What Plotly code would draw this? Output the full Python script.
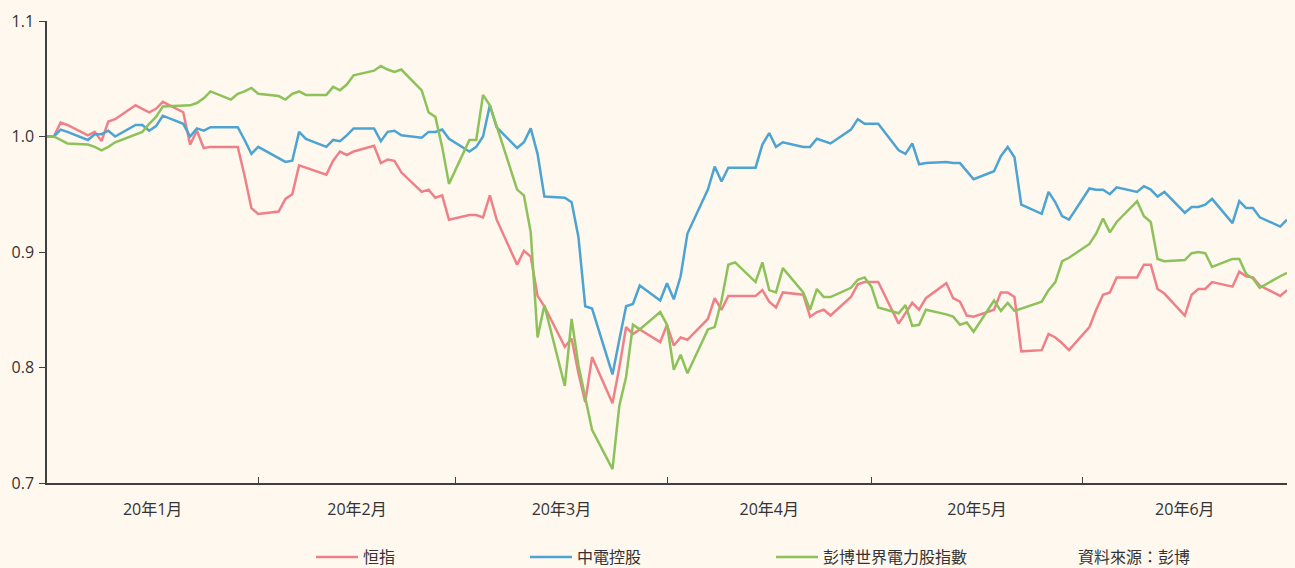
import pandas as pd
import plotly.graph_objects as go

# Trading-day calendar (all weekdays, holidays forward-filled in the source data)
dates = pd.bdate_range("2019-12-31", "2020-06-30")

hsi = [  # 恒指
    1.000, 1.000, 1.012, 1.010, 1.001, 1.004, 0.996, 1.013, 1.015, 1.027, 1.024, 1.021,
    1.024, 1.030, 1.021, 0.993, 1.005, 0.990, 0.991, 0.991, 0.991, 0.966, 0.938, 0.933,
    0.935, 0.946, 0.950, 0.975, 0.973,
    0.967, 0.979, 0.987, 0.984, 0.987,
    0.992, 0.977, 0.980, 0.979, 0.969,
    0.952, 0.954, 0.947, 0.949, 0.928,
    0.932, 0.932, 0.930, 0.949, 0.928,
    0.889, 0.901, 0.896, 0.862, 0.853,
    0.818, 0.825, 0.795, 0.770, 0.809,
    0.769, 0.800, 0.835, 0.829, 0.833,
    0.822, 0.837,
    0.819, 0.826, 0.824,
    0.842, 0.860, 0.850, 0.862, 0.862,
    0.862, 0.867, 0.857, 0.852, 0.865,
    0.863, 0.844, 0.848, 0.850, 0.845,
    0.861, 0.872, 0.874, 0.874,
    0.874,
    0.838, 0.847, 0.856, 0.850, 0.860,
    0.873, 0.860, 0.857, 0.845, 0.844,
    0.850, 0.865, 0.865, 0.861, 0.814,
    0.815, 0.829, 0.826, 0.821, 0.815,
    0.835, 0.850, 0.863, 0.865, 0.878,
    0.878, 0.889, 0.889, 0.868, 0.864,
    0.845, 0.863, 0.868, 0.868, 0.874,
    0.870, 0.883, 0.879, 0.878, 0.871,
    0.862, 0.867,
]

clp = [  # 中電控股
    1.000, 1.000, 1.006, 1.004, 0.997, 1.002, 1.002, 1.005, 1.000, 1.010, 1.010, 1.005,
    1.009, 1.018, 1.011, 1.000, 1.007, 1.005, 1.008, 1.008, 1.008, 0.997, 0.985, 0.991,
    0.981, 0.978, 0.979, 1.004, 0.998,
    0.991, 0.997, 0.996, 1.001, 1.007,
    1.007, 0.996, 1.004, 1.005, 1.001,
    0.999, 1.004, 1.004, 1.006, 0.998,
    0.987, 0.991, 1.000, 1.027, 1.008,
    0.990, 0.995, 1.007, 0.985, 0.948,
    0.947, 0.943, 0.913, 0.853, 0.851,
    0.794, 0.824, 0.853, 0.855, 0.871,
    0.858, 0.873,
    0.859, 0.879, 0.916,
    0.954, 0.974, 0.961, 0.973, 0.973,
    0.973, 0.993, 1.003, 0.991, 0.995,
    0.991, 0.991, 0.998, 0.996, 0.994,
    1.006, 1.015, 1.011, 1.011,
    1.011,
    0.988, 0.985, 0.994, 0.976, 0.977,
    0.978, 0.977, 0.977, 0.970, 0.963,
    0.970, 0.983, 0.991, 0.982, 0.941,
    0.933, 0.952, 0.943, 0.931, 0.928,
    0.955, 0.954, 0.954, 0.950, 0.956,
    0.952, 0.957, 0.954, 0.948, 0.952,
    0.934, 0.939, 0.939, 0.941, 0.946,
    0.925, 0.944, 0.938, 0.938, 0.930,
    0.922, 0.928,
]

wutil = [  # 彭博世界電力股指數
    1.000, 1.000, 0.997, 0.994, 0.993, 0.991, 0.988, 0.991, 0.995, 1.002, 1.004, 1.011,
    1.017, 1.026, 1.027, 1.027, 1.029, 1.033, 1.039, 1.032, 1.037, 1.039, 1.042, 1.037,
    1.035, 1.032, 1.037, 1.039, 1.036,
    1.036, 1.043, 1.040, 1.045, 1.053,
    1.057, 1.061, 1.058, 1.056, 1.058,
    1.040, 1.021, 1.017, 0.991, 0.959,
    0.997, 0.997, 1.036, 1.027, 1.009,
    0.954, 0.949, 0.917, 0.826, 0.854,
    0.784, 0.842, 0.802, 0.775, 0.746,
    0.712, 0.767, 0.792, 0.837, 0.833,
    0.848, 0.837,
    0.798, 0.811, 0.795,
    0.833, 0.835, 0.858, 0.889, 0.891,
    0.874, 0.891, 0.867, 0.865, 0.886,
    0.865, 0.850, 0.868, 0.861, 0.861,
    0.869, 0.876, 0.878, 0.870,
    0.852,
    0.847, 0.854, 0.836, 0.837, 0.850,
    0.846, 0.844, 0.837, 0.839, 0.831,
    0.858, 0.849, 0.856, 0.849, 0.851,
    0.857, 0.867, 0.874, 0.892, 0.895,
    0.907, 0.916, 0.929, 0.917, 0.926,
    0.944, 0.931, 0.926, 0.894, 0.892,
    0.893, 0.899, 0.900, 0.899, 0.887,
    0.894, 0.894, 0.881, 0.877, 0.869,
    0.879, 0.882,
]

series_names = ["恒指", "中電控股", "彭博世界電力股指數"]
series_colors = ["#EF8088", "#4DA3D1", "#8DC25B"]
month_bounds = ["2019-12-31", "2020-01-31", "2020-02-29", "2020-03-31",
                "2020-04-30", "2020-05-31", "2020-06-30"]
month_labels = ["20年1月", "20年2月", "20年3月", "20年4月", "20年5月", "20年6月"]
source_text = "資料來源：彭博"

assert len(dates) == len(hsi) == len(clp) == len(wutil)

bounds = pd.to_datetime(month_bounds)
mids = bounds[:-1] + (bounds[1:] - bounds[:-1]) / 2

BG = "#FEF8EE"
TXT = "#333333"
FONT = "Open Sans, Noto Sans CJK TC, sans-serif"

L, R, T, B = 47, 8, 21, 85
W, H = 1295, 568
PW = W - L - R
PH = H - T - B


def px2paper_x(px):
    return (px - L) / PW


def py2paper_y(py):
    return (H - B - py) / PH


fig = go.Figure()
legends = ["legend", "legend2", "legend3"]
for name, vals, col, lg in zip(series_names, [hsi, clp, wutil], series_colors, legends):
    fig.add_trace(go.Scatter(
        x=dates, y=vals, name=name, mode="lines",
        line=dict(color=col, width=2.5), legend=lg, showlegend=True,
    ))

leg_y = py2paper_y(557)
leg_common = dict(orientation="h", yanchor="middle", xanchor="left", y=leg_y,
                  itemwidth=42, bgcolor="rgba(0,0,0,0)", borderwidth=0,
                  font=dict(family=FONT, size=16, color=TXT))
leg_x = [316, 530, 776]

fig.update_layout(
    width=W, height=H,
    showlegend=True,
    paper_bgcolor=BG, plot_bgcolor=BG,
    margin=dict(l=L, r=R, t=T, b=B, pad=0, autoexpand=False),
    font=dict(family=FONT, size=16, color=TXT),
    legend=dict(x=px2paper_x(leg_x[0] - 5), **leg_common),
    legend2=dict(x=px2paper_x(leg_x[1] - 5), **leg_common),
    legend3=dict(x=px2paper_x(leg_x[2] - 5), **leg_common),
    xaxis=dict(
        type="date", range=[month_bounds[0], month_bounds[-1]],
        showline=True, linecolor="#404040", linewidth=1.5,
        showgrid=False, zeroline=False, automargin=False,
        tickmode="array", tickvals=mids, ticktext=month_labels,
        ticks="", ticklabelstandoff=11,
        tickfont=dict(family=FONT, size=16, color=TXT),
        minor=dict(tickmode="array", tickvals=bounds[1:-1], ticks="inside",
                   ticklen=6, tickwidth=1.2, tickcolor="#404040", showgrid=False),
    ),
    yaxis=dict(
        range=[0.7, 1.1], dtick=0.1, tick0=0.7, tickformat=".1f",
        showline=True, linecolor="#404040", linewidth=1.5,
        showgrid=False, zeroline=False, automargin=False,
        ticks="outside", ticklen=6, tickwidth=1.2, tickcolor="#404040",
        ticklabelstandoff=2,
        tickfont=dict(family=FONT, size=16, color=TXT),
    ),
    annotations=[dict(
        text=source_text, xref="paper", yref="paper",
        x=px2paper_x(1076), y=leg_y, xanchor="left", yanchor="middle",
        showarrow=False, font=dict(family=FONT, size=16, color=TXT),
    )],
)

fig.write_html(
    "out.html",
    config={"displayModeBar": False},
    post_script=(
        "document.body.style.margin='0';"
        "document.body.style.padding='0';"
        "document.body.style.overflow='hidden';"
        "document.body.style.background='" + BG + "';"
    ),
)
